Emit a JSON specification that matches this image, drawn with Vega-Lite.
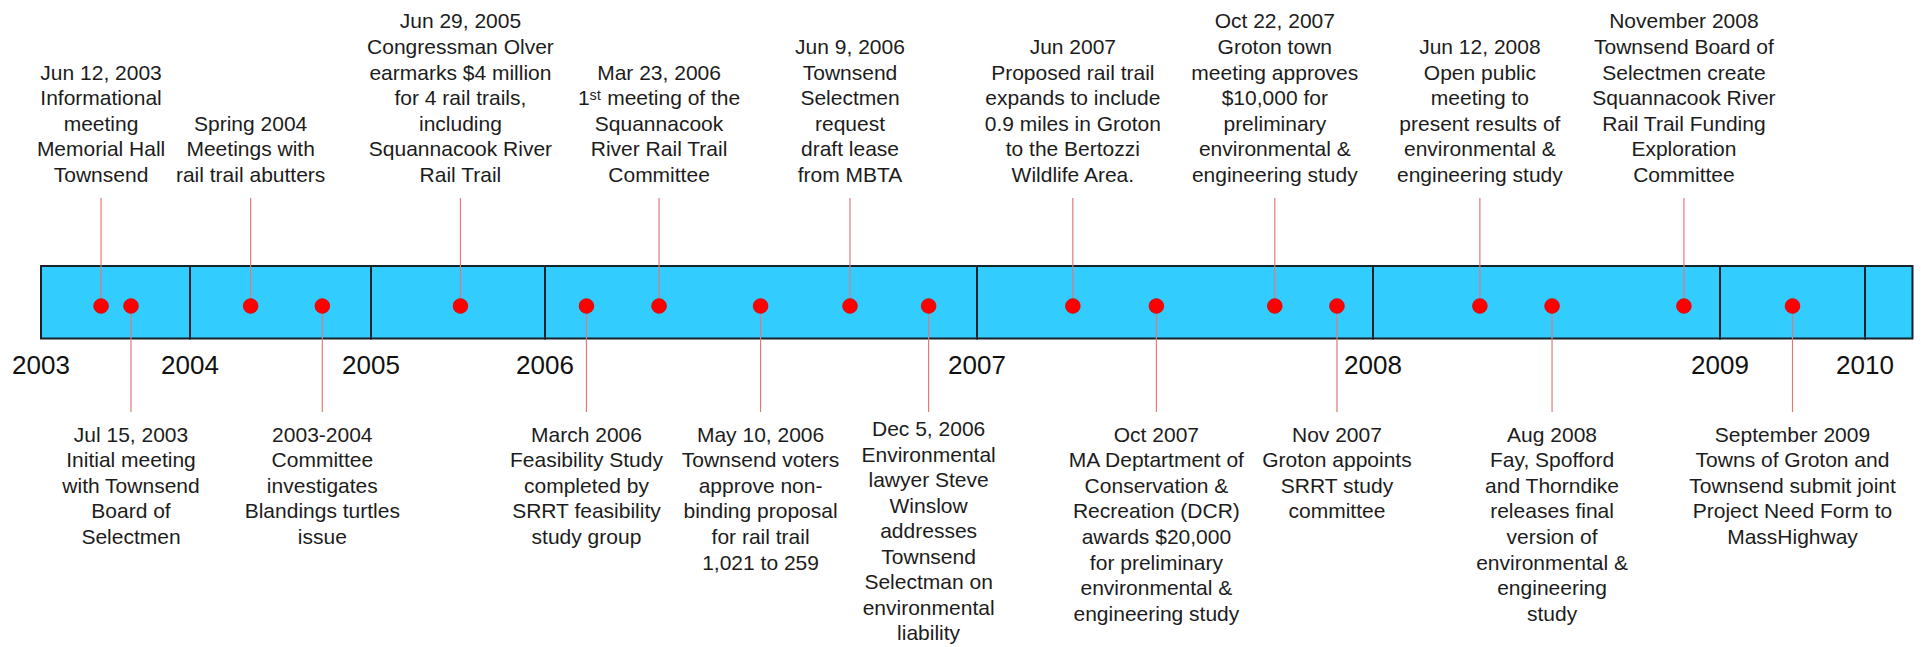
{
  "$schema": "https://vega.github.io/schema/vega-lite/v6.json",
  "width": 1921,
  "height": 647,
  "autosize": {"type": "fit", "contains": "padding"},
  "padding": 0,
  "background": "white",
  "config": {"view": {"stroke": null}},
  "datasets": {
    "segments": [
      {"start": 2003, "end": 2004},
      {"start": 2004, "end": 2005},
      {"start": 2005, "end": 2006},
      {"start": 2006, "end": 2007},
      {"start": 2007, "end": 2008},
      {"start": 2008, "end": 2009},
      {"start": 2009, "end": 2010},
      {"start": 2010, "end": 2010.33}
    ],
    "years": [
      {"year": 2003}, {"year": 2004}, {"year": 2005}, {"year": 2006},
      {"year": 2007}, {"year": 2008}, {"year": 2009}, {"year": 2010}
    ],
    "events": [
      {"t": 2003.403, "side": "above", "label": "Jun 12, 2003\nInformational\nmeeting\nMemorial Hall\nTownsend"},
      {"t": 2003.604, "side": "below", "label": "Jul 15, 2003\nInitial meeting\nwith Townsend\nBoard of\nSelectmen"},
      {"t": 2004.335, "side": "above", "label": "Spring 2004\nMeetings with\nrail trail abutters"},
      {"t": 2004.731, "side": "below", "label": "2003-2004\nCommittee\ninvestigates\nBlandings turtles\nissue"},
      {"t": 2005.514, "side": "above", "label": "Jun 29, 2005\nCongressman Olver\nearmarks $4 million\nfor 4 rail trails,\nincluding\nSquannacook River\nRail Trail"},
      {"t": 2006.096, "side": "below", "label": "March 2006\nFeasibility Study\ncompleted by\nSRRT feasibility\nstudy group"},
      {"t": 2006.264, "side": "above", "label": "Mar 23, 2006\n1ˢᵗ meeting of the\nSquannacook\nRiver Rail Trail\nCommittee"},
      {"t": 2006.499, "side": "below", "label": "May 10, 2006\nTownsend voters\napprove non-\nbinding proposal\nfor rail trail\n1,021 to 259"},
      {"t": 2006.706, "side": "above", "label": "Jun 9, 2006\nTownsend\nSelectmen\nrequest\ndraft lease\nfrom MBTA"},
      {"t": 2006.888, "side": "below", "label": "Dec 5, 2006\nEnvironmental\nlawyer Steve\nWinslow\naddresses\nTownsend\nSelectman on\nenvironmental\nliability"},
      {"t": 2007.242, "side": "above", "label": "Jun 2007\nProposed rail trail\nexpands to include\n0.9 miles in Groton\nto the Bertozzi\nWildlife Area."},
      {"t": 2007.453, "side": "below", "label": "Oct 2007\nMA Deptartment of\nConservation &\nRecreation (DCR)\nawards $20,000\nfor preliminary\nenvironmental &\nengineering study"},
      {"t": 2007.752, "side": "above", "label": "Oct 22, 2007\nGroton town\nmeeting approves\n$10,000 for\npreliminary\nenvironmental &\nengineering study"},
      {"t": 2007.909, "side": "below", "label": "Nov 2007\nGroton appoints\nSRRT study\ncommittee"},
      {"t": 2008.308, "side": "above", "label": "Jun 12, 2008\nOpen public\nmeeting to\npresent results of\nenvironmental &\nengineering study"},
      {"t": 2008.516, "side": "below", "label": "Aug 2008\nFay, Spofford\nand Thorndike\nreleases final\nversion of\nenvironmental &\nengineering\nstudy"},
      {"t": 2008.896, "side": "above", "label": "November 2008\nTownsend Board of\nSelectmen create\nSquannacook River\nRail Trail Funding\nExploration\nCommittee"},
      {"t": 2009.5, "side": "below", "label": "September 2009\nTowns of Groton and\nTownsend submit joint\nProject Need Form to\nMassHighway"}
    ]
  },
  "layer": [
    {
      "data": {"name": "segments"},
      "mark": {"type": "rect", "fill": "#33ccff", "stroke": "#16232b", "strokeWidth": 2},
      "encoding": {
        "x": {"field": "start", "type": "quantitative", "axis": null,
              "scale": {"type": "linear", "domain": [2003, 2004, 2005, 2006, 2007, 2008, 2009, 2010, 2010.33], "range": [41, 190, 371, 545, 977, 1373, 1720, 1865, 1912.5], "nice": false, "zero": false}},
        "x2": {"field": "end"},
        "y": {"datum": 266, "type": "quantitative", "axis": null, "scale": {"domain": [0, 647], "range": [0, 647], "nice": false, "zero": false}},
        "y2": {"datum": 338.5}
      }
    },
    {
      "data": {"name": "events"},
      "transform": [{"filter": "datum.side === 'above'"}],
      "mark": {"type": "rule", "stroke": "#e07a7a", "strokeWidth": 1.2},
      "encoding": {
        "x": {"field": "t", "type": "quantitative", "axis": null,
              "scale": {"type": "linear", "domain": [2003, 2004, 2005, 2006, 2007, 2008, 2009, 2010, 2010.33], "range": [41, 190, 371, 545, 977, 1373, 1720, 1865, 1912.5], "nice": false, "zero": false}},
        "y": {"datum": 198, "type": "quantitative", "axis": null, "scale": {"domain": [0, 647], "range": [0, 647], "nice": false, "zero": false}},
        "y2": {"datum": 306}
      }
    },
    {
      "data": {"name": "events"},
      "transform": [{"filter": "datum.side === 'below'"}],
      "mark": {"type": "rule", "stroke": "#e07a7a", "strokeWidth": 1.2},
      "encoding": {
        "x": {"field": "t", "type": "quantitative", "axis": null,
              "scale": {"type": "linear", "domain": [2003, 2004, 2005, 2006, 2007, 2008, 2009, 2010, 2010.33], "range": [41, 190, 371, 545, 977, 1373, 1720, 1865, 1912.5], "nice": false, "zero": false}},
        "y": {"datum": 306, "type": "quantitative", "axis": null, "scale": {"domain": [0, 647], "range": [0, 647], "nice": false, "zero": false}},
        "y2": {"datum": 412}
      }
    },
    {
      "data": {"name": "events"},
      "mark": {"type": "circle", "fill": "#ff0000", "stroke": "#dd0000", "strokeWidth": 0.8, "opacity": 1, "size": 215},
      "encoding": {
        "x": {"field": "t", "type": "quantitative", "axis": null,
              "scale": {"type": "linear", "domain": [2003, 2004, 2005, 2006, 2007, 2008, 2009, 2010, 2010.33], "range": [41, 190, 371, 545, 977, 1373, 1720, 1865, 1912.5], "nice": false, "zero": false}},
        "y": {"datum": 306, "type": "quantitative", "axis": null, "scale": {"domain": [0, 647], "range": [0, 647], "nice": false, "zero": false}}
      }
    },
    {
      "data": {"name": "events"},
      "transform": [{"filter": "datum.side === 'above' && split(datum.label, '\\n').length === 3"}],
      "mark": {"type": "text", "align": "center", "baseline": "bottom", "lineBreak": "\n", "lineHeight": 25.6, "font": "Liberation Sans", "fontSize": 21, "fill": "#1c1c1c"},
      "encoding": {
        "x": {"field": "t", "type": "quantitative", "axis": null,
              "scale": {"type": "linear", "domain": [2003, 2004, 2005, 2006, 2007, 2008, 2009, 2010, 2010.33], "range": [41, 190, 371, 545, 977, 1373, 1720, 1865, 1912.5], "nice": false, "zero": false}},
        "y": {"datum": 134.8, "type": "quantitative", "axis": null, "scale": {"domain": [0, 647], "range": [0, 647], "nice": false, "zero": false}},
        "text": {"field": "label"}
      }
    },
    {
      "data": {"name": "events"},
      "transform": [{"filter": "datum.side === 'above' && split(datum.label, '\\n').length === 5"}],
      "mark": {"type": "text", "align": "center", "baseline": "bottom", "lineBreak": "\n", "lineHeight": 25.6, "font": "Liberation Sans", "fontSize": 21, "fill": "#1c1c1c"},
      "encoding": {
        "x": {"field": "t", "type": "quantitative", "axis": null,
              "scale": {"type": "linear", "domain": [2003, 2004, 2005, 2006, 2007, 2008, 2009, 2010, 2010.33], "range": [41, 190, 371, 545, 977, 1373, 1720, 1865, 1912.5], "nice": false, "zero": false}},
        "y": {"datum": 83.6, "type": "quantitative", "axis": null, "scale": {"domain": [0, 647], "range": [0, 647], "nice": false, "zero": false}},
        "text": {"field": "label"}
      }
    },
    {
      "data": {"name": "events"},
      "transform": [{"filter": "datum.side === 'above' && split(datum.label, '\\n').length === 6"}],
      "mark": {"type": "text", "align": "center", "baseline": "bottom", "lineBreak": "\n", "lineHeight": 25.6, "font": "Liberation Sans", "fontSize": 21, "fill": "#1c1c1c"},
      "encoding": {
        "x": {"field": "t", "type": "quantitative", "axis": null,
              "scale": {"type": "linear", "domain": [2003, 2004, 2005, 2006, 2007, 2008, 2009, 2010, 2010.33], "range": [41, 190, 371, 545, 977, 1373, 1720, 1865, 1912.5], "nice": false, "zero": false}},
        "y": {"datum": 58, "type": "quantitative", "axis": null, "scale": {"domain": [0, 647], "range": [0, 647], "nice": false, "zero": false}},
        "text": {"field": "label"}
      }
    },
    {
      "data": {"name": "events"},
      "transform": [{"filter": "datum.side === 'above' && split(datum.label, '\\n').length === 7"}],
      "mark": {"type": "text", "align": "center", "baseline": "bottom", "lineBreak": "\n", "lineHeight": 25.6, "font": "Liberation Sans", "fontSize": 21, "fill": "#1c1c1c"},
      "encoding": {
        "x": {"field": "t", "type": "quantitative", "axis": null,
              "scale": {"type": "linear", "domain": [2003, 2004, 2005, 2006, 2007, 2008, 2009, 2010, 2010.33], "range": [41, 190, 371, 545, 977, 1373, 1720, 1865, 1912.5], "nice": false, "zero": false}},
        "y": {"datum": 32.4, "type": "quantitative", "axis": null, "scale": {"domain": [0, 647], "range": [0, 647], "nice": false, "zero": false}},
        "text": {"field": "label"}
      }
    },
    {
      "data": {"name": "events"},
      "transform": [{"filter": "datum.side === 'below' && split(datum.label, '\\n').length < 9"}],
      "mark": {"type": "text", "align": "center", "baseline": "top", "lineBreak": "\n", "lineHeight": 25.6, "font": "Liberation Sans", "fontSize": 21, "fill": "#1c1c1c"},
      "encoding": {
        "x": {"field": "t", "type": "quantitative", "axis": null,
              "scale": {"type": "linear", "domain": [2003, 2004, 2005, 2006, 2007, 2008, 2009, 2010, 2010.33], "range": [41, 190, 371, 545, 977, 1373, 1720, 1865, 1912.5], "nice": false, "zero": false}},
        "y": {"datum": 424.5, "type": "quantitative", "axis": null, "scale": {"domain": [0, 647], "range": [0, 647], "nice": false, "zero": false}},
        "text": {"field": "label"}
      }
    },
    {
      "data": {"name": "events"},
      "transform": [{"filter": "datum.side === 'below' && split(datum.label, '\\n').length >= 9"}],
      "mark": {"type": "text", "align": "center", "baseline": "top", "lineBreak": "\n", "lineHeight": 25.5, "font": "Liberation Sans", "fontSize": 21, "fill": "#1c1c1c"},
      "encoding": {
        "x": {"field": "t", "type": "quantitative", "axis": null,
              "scale": {"type": "linear", "domain": [2003, 2004, 2005, 2006, 2007, 2008, 2009, 2010, 2010.33], "range": [41, 190, 371, 545, 977, 1373, 1720, 1865, 1912.5], "nice": false, "zero": false}},
        "y": {"datum": 419, "type": "quantitative", "axis": null, "scale": {"domain": [0, 647], "range": [0, 647], "nice": false, "zero": false}},
        "text": {"field": "label"}
      }
    },
    {
      "data": {"name": "years"},
      "mark": {"type": "text", "align": "center", "baseline": "middle", "font": "Liberation Sans", "fontSize": 26, "fill": "#111111"},
      "encoding": {
        "x": {"field": "year", "type": "quantitative", "axis": null,
              "scale": {"type": "linear", "domain": [2003, 2004, 2005, 2006, 2007, 2008, 2009, 2010, 2010.33], "range": [41, 190, 371, 545, 977, 1373, 1720, 1865, 1912.5], "nice": false, "zero": false}},
        "y": {"datum": 366, "type": "quantitative", "axis": null, "scale": {"domain": [0, 647], "range": [0, 647], "nice": false, "zero": false}},
        "text": {"field": "year", "type": "nominal"}
      }
    }
  ]
}
